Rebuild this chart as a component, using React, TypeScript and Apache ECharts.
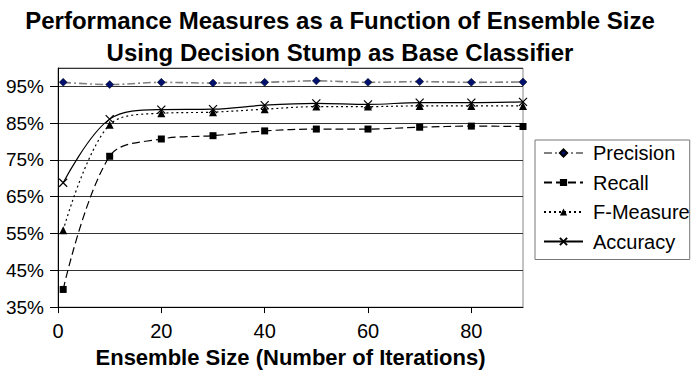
import React, { useEffect, useRef } from "react";
import * as echarts from "echarts";

const ensembleSizes = [1, 10, 20, 30, 40, 50, 60, 70, 80, 90];
const precision = [96.1, 95.5, 96.1, 95.9, 96.1, 96.5, 96.1, 96.3, 96.1, 96.2];
const recall = [39.8, 76.0, 80.7, 81.6, 82.9, 83.4, 83.4, 83.9, 84.2, 84.1];
const fMeasure = [55.9, 84.6, 87.7, 88.0, 88.8, 89.5, 89.5, 89.7, 89.7, 89.7];
const accuracy = [68.8, 86.1, 88.7, 88.8, 89.9, 90.4, 90.1, 90.6, 90.6, 90.8];
const xTicks = [0, 20, 40, 60, 80];
const titleLines = [
  "Performance Measures as a Function of Ensemble Size",
  "Using Decision Stump as Base Classifier",
];
const xAxisTitle = "Ensemble Size (Number of Iterations)";

const FONT = "'Liberation Sans', Arial, sans-serif";

export default function App() {
  const ref = useRef<HTMLDivElement>(null);
  useEffect(() => {
    if (!ref.current) return;
    const chart = echarts.init(ref.current, null, { renderer: "svg" });
    const pair = (ys: number[]) => ensembleSizes.map((x, i) => [x, ys[i]]);
    const base = {
      type: "line",
      smooth: 0.35,
      showSymbol: true,
    };
    chart.setOption({
      animation: false,
      textStyle: { fontFamily: FONT },
      graphic: [
        {
          type: "text",
          x: 340,
          y: 4,
          style: {
            text: titleLines.join("\n"),
            font: `bold 24px ${FONT}`,
            textAlign: "center",
            textVerticalAlign: "top",
            lineHeight: 32,
            fill: "#000",
          },
        },
      ],
      grid: {
        left: 58,
        right: 173,
        top: 68,
        bottom: 65,
        show: true,
        borderColor: "#888",
        borderWidth: 1,
      },
      legend: {
        orient: "vertical",
        left: 535,
        top: 140,
        padding: [3, 0, 8, 8],
        itemGap: 9.5,
        itemWidth: 39,
        itemHeight: 9,
        borderColor: "#777",
        borderWidth: 1,
        textStyle: {
          fontFamily: FONT,
          fontSize: 20,
          color: "#000",
          lineHeight: 20,
          padding: [0, 0, 0, 5],
        },
        data: ["Precision", "Recall", "F-Measure", "Accuracy"],
      },
      xAxis: {
        type: "value",
        min: 0,
        max: 90,
        interval: 20,
        name: xAxisTitle,
        nameLocation: "middle",
        nameGap: 38,
        nameTextStyle: {
          fontFamily: FONT,
          fontSize: 22,
          fontWeight: "bold",
          color: "#000",
        },
        axisLine: { lineStyle: { color: "#000", width: 1 } },
        axisTick: {
          customValues: xTicks,
          length: 6,
          lineStyle: { color: "#000" },
        },
        axisLabel: {
          customValues: xTicks,
          fontFamily: FONT,
          fontSize: 20,
          color: "#000",
          margin: 14,
        },
        splitLine: { show: false },
      },
      yAxis: {
        type: "value",
        min: 35,
        max: 100,
        interval: 10,
        axisLine: { show: true, lineStyle: { color: "#000", width: 1 } },
        axisTick: { show: true, length: 8, lineStyle: { color: "#000" } },
        axisLabel: {
          showMaxLabel: false,
          formatter: (v: number) => `${v}%`,
          fontFamily: FONT,
          fontSize: 19,
          color: "#000",
          margin: 14,
        },
        splitLine: { show: true, lineStyle: { color: "#333", width: 1 } },
      },
      series: [
        {
          ...base,
          name: "Precision",
          data: pair(precision),
          symbol: "diamond",
          symbolSize: 8,
          itemStyle: { color: "#00106e", borderColor: "#000", borderWidth: 0.5 },
          lineStyle: { color: "#808080", width: 1.6, type: [8, 3, 2, 3] },
        },
        {
          ...base,
          name: "Recall",
          data: pair(recall),
          symbol: "rect",
          symbolSize: 7,
          itemStyle: { color: "#000" },
          lineStyle: { color: "#000", width: 1.2, type: [8, 4] },
        },
        {
          ...base,
          name: "F-Measure",
          data: pair(fMeasure),
          symbol: "triangle",
          symbolSize: 8,
          itemStyle: { color: "#000" },
          lineStyle: { color: "#000", width: 1.2, type: [2, 3] },
        },
        {
          ...base,
          name: "Accuracy",
          data: pair(accuracy),
          symbol: "path://M0,0L10,10M10,0L0,10",
          symbolSize: 8,
          itemStyle: { color: "none", borderColor: "#000", borderWidth: 1.2 },
          lineStyle: { color: "#000", width: 1.2, type: "solid" },
        },
      ],
    });
    return () => chart.dispose();
  }, []);
  return (
    <div
      ref={ref}
      style={{ position: "absolute", left: 0, top: 0, width: 696, height: 373 }}
    />
  );
}
